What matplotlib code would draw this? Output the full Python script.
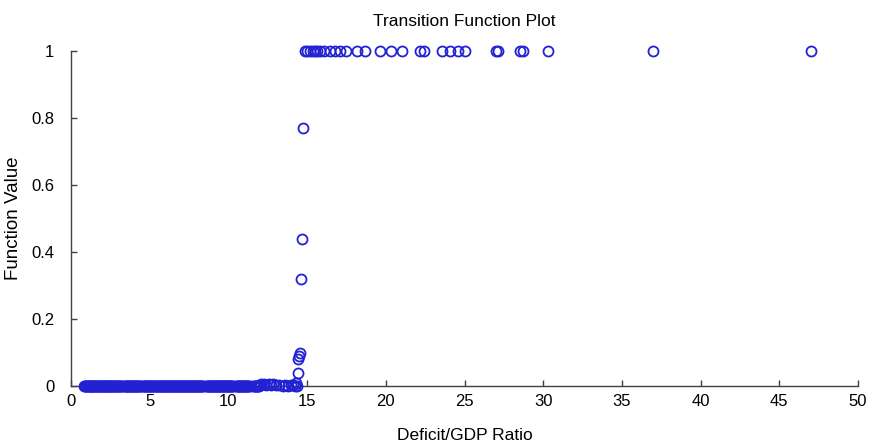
import matplotlib
matplotlib.use("Agg")
import matplotlib.pyplot as plt

# Low regime: points lying at function value 0 (dense band)
x_zero = [0.85, 0.92, 1.0, 1.1, 1.18, 1.25, 1.33, 1.4, 1.52, 1.6, 1.7, 1.78, 1.85,
          1.97, 2.05, 2.14, 2.2, 2.31, 2.4, 2.48, 2.55, 2.66, 2.75, 2.83, 2.9, 3.02,
          3.1, 3.25, 3.4, 3.5, 3.58, 3.67, 3.75, 3.86, 3.95, 4.05, 4.12, 4.2, 4.33,
          4.4, 4.6, 4.68, 4.77, 4.85, 4.95, 5.05, 5.12, 5.2, 5.35, 5.43, 5.5, 5.62,
          5.7, 5.78, 5.88, 5.96, 6.05, 6.15, 6.22, 6.3, 6.4, 6.5, 6.58, 6.67, 6.75,
          6.85, 6.93, 7.02, 7.1, 7.2, 7.28, 7.37, 7.45, 7.55, 7.63, 7.72, 7.8, 7.9,
          8.0, 8.08, 8.15, 8.25, 8.35, 8.6, 8.7, 8.78, 8.85, 8.95, 9.05, 9.12, 9.2,
          9.3, 9.38, 9.47, 9.55, 9.63, 9.72, 9.8, 9.9, 10.0, 10.08, 10.15, 10.25,
          10.5, 10.6, 10.68, 10.75, 10.85, 10.95, 11.05, 11.12, 11.2, 11.3, 11.6,
          11.7, 11.8, 11.88]
x_zero_more = [0.88, 0.96, 1.05, 1.14, 1.21, 1.29, 1.37, 1.46, 1.56, 1.65, 1.74,
               1.82, 1.91, 2.01, 2.1, 2.17, 2.26, 2.35, 2.44, 2.52, 2.6, 2.7, 2.79,
               2.87, 2.96, 3.06, 3.17, 3.32, 3.45, 3.54, 3.62, 3.71, 3.8, 3.9, 4.0,
               4.08, 4.16, 4.26, 4.37, 4.5, 4.64, 4.72, 4.81, 4.9, 5.0, 5.08, 5.16,
               5.27, 5.39, 5.46, 5.56, 5.66, 5.74, 5.83, 5.92, 6.0, 6.1, 6.18, 6.26,
               6.35, 6.45, 6.54, 6.62, 6.71, 6.8, 6.89, 6.97, 7.06, 7.15, 7.24, 7.32,
               7.41, 7.5, 7.59, 7.67, 7.76, 7.85, 7.95, 8.04, 8.11, 8.2, 8.3, 8.45,
               8.65, 8.74, 8.82, 8.9, 9.0, 9.08, 9.16, 9.25, 9.34, 9.42, 9.51, 9.59,
               9.68, 9.76, 9.85, 9.95, 10.04, 10.12, 10.2, 10.38, 10.55, 10.64, 10.71,
               10.8, 10.9, 11.0, 11.08, 11.16, 11.25, 11.45, 11.65, 11.75, 11.84,
               11.94]

# Points just below the threshold with tiny positive values
x_small = [12.0, 12.1, 12.25, 12.4, 12.55, 12.7, 12.85, 13.0, 13.2, 13.45, 13.6,
           13.8, 13.95, 14.1, 14.2]
y_small = [0.003, 0.005, 0.007, 0.004, 0.006, 0.003, 0.005, 0.002, 0.004, 0.001,
           0.003, 0.0, 0.002, 0.004, 0.001]

# Transition region
x_trans = [14.3, 14.35, 14.4, 14.45, 14.5, 14.55, 14.6, 14.7, 14.75]
y_trans = [0.01, 0.0, 0.04, 0.08, 0.09, 0.10, 0.32, 0.44, 0.77]

# High regime: points at function value 1
x_one = [14.87, 15.0, 15.18, 15.35, 15.5, 15.65, 15.8, 16.1, 16.45, 16.8, 17.1,
         17.5, 18.2, 18.7, 19.6, 20.3, 21.0, 22.2, 22.4, 23.6, 24.1, 24.6, 25.0,
         27.0, 27.15, 28.5, 28.7, 30.3, 37.0, 47.0]

x_ticks = [0, 5, 10, 15, 20, 25, 30, 35, 40, 45, 50]
y_ticks = [0, 0.2, 0.4, 0.6, 0.8, 1.0]
y_tick_labels = ["0", "0.2", "0.4", "0.6", "0.8", "1"]

sans = ["Liberation Sans", "DejaVu Sans"]

fig = plt.figure(figsize=(8.72, 4.44), dpi=100)
ax = fig.add_axes([71 / 872, 58 / 444, 787 / 872, 335 / 444])

xs = x_zero + x_zero_more + x_small + x_trans + x_one
ys = ([0.0] * (len(x_zero) + len(x_zero_more)) + y_small + y_trans
      + [1.0] * len(x_one))

ax.plot(xs, ys, linestyle="none", marker="o", markersize=7.2,
        markerfacecolor="none", markeredgecolor="#2222d4", markeredgewidth=1.3,
        clip_on=False, zorder=3)

ax.set_xlim(0, 50)
ax.set_ylim(0, 1)
ax.set_xticks(x_ticks)
ax.set_xticklabels([str(t) for t in x_ticks], fontfamily=sans, fontsize=12)
ax.set_yticks(y_ticks)
ax.set_yticklabels(y_tick_labels, fontfamily=sans, fontsize=12)

for s in ["top", "right"]:
    ax.spines[s].set_visible(False)
for s in ["left", "bottom"]:
    ax.spines[s].set_color("#404040")
    ax.spines[s].set_linewidth(1.0)

ax.tick_params(axis="both", direction="in", length=4, width=1.0, color="#404040",
               labelcolor="black")
ax.tick_params(axis="x", pad=6)
ax.tick_params(axis="y", pad=12)

ax.set_title("Transition Function Plot", fontfamily=sans, fontsize=12.5, pad=18)
ax.set_xlabel("Deficit/GDP Ratio", fontfamily=sans, fontsize=12.5)
ax.xaxis.set_label_coords(0.5, -0.125)
ax.set_ylabel("Function Value", fontfamily=sans, fontsize=13.5)
ax.yaxis.set_label_coords(-0.062, 0.5)

fig.savefig("out.png", dpi=100)
